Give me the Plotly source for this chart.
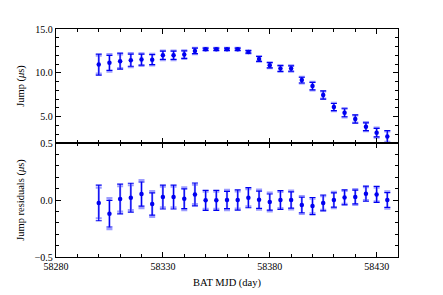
import plotly.graph_objects as go
from plotly.subplots import make_subplots

mjd = [58300 + 5 * i for i in range(28)]

jump = [10.94, 11.14, 11.33, 11.44, 11.51, 11.50, 12.00, 12.00, 12.08, 12.50,
        12.69, 12.69, 12.69, 12.69, 12.39, 11.59, 10.87, 10.49, 10.49, 9.17,
        8.49, 7.47, 6.10, 5.45, 4.74, 3.86, 3.18, 2.73]
jump_err = [1.19, 0.99, 0.91, 0.80, 0.72, 0.66, 0.55, 0.55, 0.49, 0.36,
            0.15, 0.15, 0.15, 0.15, 0.17, 0.32, 0.34, 0.36, 0.36, 0.38,
            0.49, 0.47, 0.47, 0.53, 0.47, 0.51, 0.57, 0.68]
# 1 = dark error bar is the outer one, 0 = light one is outer
jump_dark_outer = [1, 0, 1, 0, 0, 0, 0, 0, 0, 0, 0, 0, 0, 0, 0, 0, 0, 1, 0, 0,
                   0, 1, 0, 0, 1, 0, 0, 1]

resid = [-0.026, -0.120, 0.009, 0.020, 0.052, -0.035, 0.026, 0.026, 0.011, 0.049,
         -0.003, -0.003, 0.000, 0.000, 0.020, 0.003, -0.018, 0.000, 0.000, -0.044,
         -0.053, -0.026, 0.000, 0.023, 0.026, 0.055, 0.049, 0.000]
resid_err = [0.156, 0.136, 0.130, 0.127, 0.123, 0.113, 0.105, 0.105, 0.100, 0.100,
             0.088, 0.088, 0.088, 0.088, 0.088, 0.088, 0.082, 0.082, 0.082, 0.079,
             0.075, 0.070, 0.072, 0.066, 0.070, 0.066, 0.070, 0.075]
resid_dark_outer = [1, 0, 1, 1, 0, 0, 1, 1, 0, 1, 1, 1, 0, 1, 1, 0, 0, 1, 0, 0,
                    1, 1, 0, 1, 0, 1, 1, 0]

DARK = "#0000f0"
LIGHT = "rgba(60,60,255,0.5)"
FONT = "Liberation Serif"


def split(err, flags):
    dark = [e if f else e * 0.86 for e, f in zip(err, flags)]
    light = [e * 0.86 if f else e for e, f in zip(err, flags)]
    return dark, light


fig = make_subplots(rows=2, cols=1, shared_xaxes=True, vertical_spacing=0)

for row, y, err, flags in [(1, jump, jump_err, jump_dark_outer),
                           (2, resid, resid_err, resid_dark_outer)]:
    dark, light = split(err, flags)
    fig.add_trace(go.Scatter(
        x=mjd, y=y, mode="markers",
        marker=dict(size=1, color="rgba(0,0,0,0)"),
        error_y=dict(type="data", array=light, color=LIGHT, thickness=2.2, width=3),
        showlegend=False, hoverinfo="skip"), row=row, col=1)
    fig.add_trace(go.Scatter(
        x=mjd, y=y, mode="markers",
        marker=dict(size=4.5, color=DARK, symbol="circle"),
        error_y=dict(type="data", array=dark, color=DARK, thickness=1.2, width=3),
        showlegend=False), row=row, col=1)

axis_common = dict(
    showline=True, linecolor="black", linewidth=1.3, mirror="ticks",
    ticks="inside", ticklen=5, tickwidth=1, tickcolor="black",
    showgrid=False, zeroline=False, automargin=False,
    tickfont=dict(family=FONT, size=10, color="black"),
)

fig.update_xaxes(range=[58280, 58440], tick0=58280, dtick=50, tickformat="d",
                 minor=dict(ticks="inside", ticklen=3, dtick=10, tick0=58280,
                            tickcolor="black", showgrid=False),
                 **axis_common)
fig.update_xaxes(showticklabels=False, row=1, col=1)
fig.update_xaxes(title=dict(text="BAT MJD (day)", font=dict(family=FONT, size=10.5, color="black"),
                            standoff=7), row=2, col=1)

fig.update_yaxes(range=[2, 15], tickvals=[5, 10, 15], tickformat=".1f",
                 minor=dict(ticks="inside", ticklen=3, dtick=1, tick0=0,
                            tickcolor="black", showgrid=False),
                 title=dict(text="Jump (<i>μ</i>s)", font=dict(family=FONT, size=10.5, color="black"),
                            standoff=8),
                 row=1, col=1, **axis_common)
fig.update_yaxes(range=[-0.5, 0.5], tickvals=[-0.5, 0.0, 0.5], tickformat=".1f",
                 minor=dict(ticks="inside", ticklen=3, dtick=0.1, tick0=0,
                            tickcolor="black", showgrid=False),
                 title=dict(text="Jump residuals (<i>μ</i>s)", font=dict(family=FONT, size=10.5, color="black"),
                            standoff=8),
                 row=2, col=1, **axis_common)

# page body has an 8px default margin, so shift margins to compensate
fig.update_layout(
    width=443, height=295,
    margin=dict(l=48, r=53, t=21, b=46),
    paper_bgcolor="white", plot_bgcolor="white",
    font=dict(family=FONT, size=10, color="black"),
)

fig.write_html("out.html")
